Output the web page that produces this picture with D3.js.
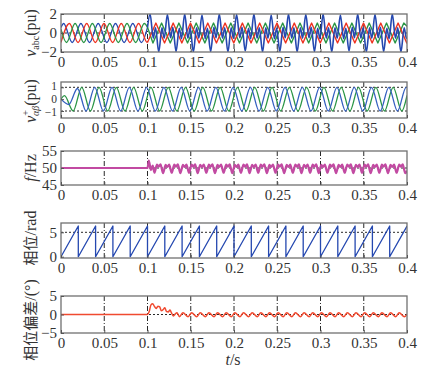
<!DOCTYPE html>
<html>
<head>
<meta charset="utf-8" />
<title>PLL response</title>
<script src="https://cdnjs.cloudflare.com/ajax/libs/d3/7.8.5/d3.min.js"></script>
<style>
  body { margin: 0; background: #fff; }
  svg text { font-family: "Liberation Serif", "DejaVu Serif", serif; fill: #333; }
  .cjk { font-family: "Noto Sans CJK SC", sans-serif; }
</style>
</head>
<body>
<script>
// time in ms

// x axis
var xTicks = [0, 0.05, 0.1, 0.15, 0.2, 0.25, 0.3, 0.35, 0.4];
var xTickLabels = ["0", "0.05", "0.1", "0.15", "0.2", "0.25", "0.3", "0.35", "0.4"];

// panel 1: v_abc
var vaPre = [[0,0.59],[3,1],[13,-1],[23,1],[33,-1],[43,1],[53,-1],[63,1],[73,-1],[83,1],[93,-1],[100,0.59]];
var vbPre = [[0,-0.99],[9.7,1],[19.7,-1],[29.7,1],[39.7,-1],[49.7,1],[59.7,-1],[69.7,1],[79.7,-1],[89.7,1],[99.7,-1],[100,-1]];
var vcPre = [[0,0.4],[6.3,-1],[16.3,1],[26.3,-1],[36.3,1],[46.3,-1],[56.3,1],[66.3,-1],[76.3,1],[86.3,-1],[96.3,1],[100,0.6]];
var vaPost = [[100,0.59],
  [103,2],[106.7,-0.55],[109.3,0.55],[113,-2],[116.7,0.55],[119.3,-0.55],
  [123,1.95],[126.7,-0.5],[129.3,0.6],[133,-1.95],[136.7,0.5],[139.3,-0.6],
  [143,2],[146.7,-0.55],[149.3,0.55],[153,-2],[156.7,0.55],[159.3,-0.55],
  [163,1.9],[166.7,-0.6],[169.3,0.5],[173,-1.95],[176.7,0.6],[179.3,-0.5],
  [183,2],[186.7,-0.55],[189.3,0.55],[193,-2],[196.7,0.55],[199.3,-0.55],
  [203,1.95],[206.7,-0.5],[209.3,0.6],[213,-1.9],[216.7,0.5],[219.3,-0.6],
  [223,2],[226.7,-0.55],[229.3,0.55],[233,-2],[236.7,0.55],[239.3,-0.55],
  [243,1.9],[246.7,-0.6],[249.3,0.5],[253,-1.95],[256.7,0.6],[259.3,-0.5],
  [263,2],[266.7,-0.55],[269.3,0.55],[273,-2],[276.7,0.55],[279.3,-0.55],
  [283,1.95],[286.7,-0.5],[289.3,0.6],[293,-1.95],[296.7,0.5],[299.3,-0.6],
  [303,2],[306.7,-0.55],[309.3,0.55],[313,-2],[316.7,0.55],[319.3,-0.55],
  [323,1.9],[326.7,-0.6],[329.3,0.5],[333,-1.9],[336.7,0.6],[339.3,-0.5],
  [343,2],[346.7,-0.55],[349.3,0.55],[353,-2],[356.7,0.55],[359.3,-0.55],
  [363,1.95],[366.7,-0.5],[369.3,0.6],[373,-1.95],[376.7,0.5],[379.3,-0.6],
  [383,2],[386.7,-0.55],[389.3,0.55],[393,-2],[396.7,0.55],[399.3,-0.55],[400,-0.4]];
var vbPost = [[100,-1],[109.7,1.05],[119.7,-1.05],[129.7,1.05],[139.7,-1.05],[149.7,1.05],[159.7,-1.05],
  [169.7,1.05],[179.7,-1.05],[189.7,1.05],[199.7,-1.05],[209.7,1.05],[219.7,-1.05],[229.7,1.05],[239.7,-1.05],
  [249.7,1.05],[259.7,-1.05],[269.7,1.05],[279.7,-1.05],[289.7,1.05],[299.7,-1.05],[309.7,1.05],[319.7,-1.05],
  [329.7,1.05],[339.7,-1.05],[349.7,1.05],[359.7,-1.05],[369.7,1.05],[379.7,-1.05],[389.7,1.05],[399.7,-1.05],[400,-1]];
var vcPost = [[100,0.6],[106.3,-1.05],[116.3,1.05],[126.3,-1.05],[136.3,1.05],[146.3,-1.05],[156.3,1.05],
  [166.3,-1.05],[176.3,1.05],[186.3,-1.05],[196.3,1.05],[206.3,-1.05],[216.3,1.05],[226.3,-1.05],[236.3,1.05],
  [246.3,-1.05],[256.3,1.05],[266.3,-1.05],[276.3,1.05],[286.3,-1.05],[296.3,1.05],[306.3,-1.05],[316.3,1.05],
  [326.3,-1.05],[336.3,1.05],[346.3,-1.05],[356.3,1.05],[366.3,-1.05],[376.3,1.05],[386.3,-1.05],[396.3,1.05],[400,0.7]];

// panel 2: positive sequence alpha / beta
var vAlpha = [[0,0],[9,-0.45],[19,0.9],[29,-1],[39,1],[49,-1],[59,1],[69,-1],[79,1],[89,-1],[99,1],
  [109,-1],[119,1],[129,-1],[139,1],[149,-1],[159,1],[169,-1],[179,1],[189,-1],[199,1],
  [209,-1],[219,1],[229,-1],[239,1],[249,-1],[259,1],[269,-1],[279,1],[289,-1],[299,1],
  [309,-1],[319,1],[329,-1],[339,1],[349,-1],[359,1],[369,-1],[379,1],[389,-1],[399,1],[400,0.99]];
var vBeta = [[0,0],[4,0.3],[14,-1],[24,1],[34,-1],[44,1],[54,-1],[64,1],[74,-1],[84,1],[94,-1],
  [104,1],[114,-1],[124,1],[134,-1],[144,1],[154,-1],[164,1],[174,-1],[184,1],[194,-1],
  [204,1],[214,-1],[224,1],[234,-1],[244,1],[254,-1],[264,1],[274,-1],[284,1],[294,-1],
  [304,1],[314,-1],[324,1],[334,-1],[344,1],[354,-1],[364,1],[374,-1],[384,1],[394,-1],[400,0.31]];

// panel 3: frequency (Hz)
var freq = [[0,50],[100,50],[101.5,52.2],[104,49.4],[106,50.7],[108,48.6],
  [111,51],[113,50.4],[115,51.1],[118,48.5],[121,50.9],[123,50.3],[125,51],[128,48.6],
  [131,51],[133,50.4],[135,51.1],[138,48.5],[141,50.9],[143,50.3],[145,51],[148,48.6],
  [151,51],[153,50.4],[155,51.1],[158,48.5],[161,50.9],[163,50.3],[165,51],[168,48.6],
  [171,51],[173,50.4],[175,51.1],[178,48.5],[181,50.9],[183,50.3],[185,51],[188,48.6],
  [191,51],[193,50.4],[195,51.1],[198,48.5],[201,50.9],[203,50.3],[205,51],[208,48.6],
  [211,51],[213,50.4],[215,51.1],[218,48.5],[221,50.9],[223,50.3],[225,51],[228,48.6],
  [231,51],[233,50.4],[235,51.1],[238,48.5],[241,50.9],[243,50.3],[245,51],[248,48.6],
  [251,51],[253,50.4],[255,51.1],[258,48.5],[261,50.9],[263,50.3],[265,51],[268,48.6],
  [271,51],[273,50.4],[275,51.1],[278,48.5],[281,50.9],[283,50.3],[285,51],[288,48.6],
  [291,51],[293,50.4],[295,51.1],[298,48.5],[301,50.9],[303,50.3],[305,51],[308,48.6],
  [311,51],[313,50.4],[315,51.1],[318,48.5],[321,50.9],[323,50.3],[325,51],[328,48.6],
  [331,51],[333,50.4],[335,51.1],[338,48.5],[341,50.9],[343,50.3],[345,51],[348,48.6],
  [351,51],[353,50.4],[355,51.1],[358,48.5],[361,50.9],[363,50.3],[365,51],[368,48.6],
  [371,51],[373,50.4],[375,51.1],[378,48.5],[381,50.9],[383,50.3],[385,51],[388,48.6],
  [391,51],[393,50.4],[395,51.1],[398,48.5],[400,49.2]];

// panel 4: phase (rad)
var phase = [[0,0],[20,6.28],[20,0],[40,6.28],[40,0],[60,6.28],[60,0],[80,6.28],[80,0],[100,6.28],[100,0],
  [120,6.28],[120,0],[140,6.28],[140,0],[160,6.28],[160,0],[180,6.28],[180,0],[200,6.28],[200,0],
  [220,6.28],[220,0],[240,6.28],[240,0],[260,6.28],[260,0],[280,6.28],[280,0],[300,6.28],[300,0],
  [320,6.28],[320,0],[340,6.28],[340,0],[360,6.28],[360,0],[380,6.28],[380,0],[400,6.28]];

// panel 5: phase error (deg)
var phaseErr = [[0,0],[100,0],[102,0.8],[104,2.6],[106,2.9],[108,2.2],[110,1.6],[112,2.2],[114,2.1],
  [116,1.0],[118,1.3],[120,1.8],[122,0.8],[124,0.7],[126,1.2],[128,0.3],[130,-0.4],[132,0.1],[134,0.5],
  [137,-0.6],[141,0.5],[147,-0.6],[151,0.5],[157,-0.6],[161,0.5],[167,-0.6],[171,0.5],[177,-0.6],[181,0.5],
  [187,-0.6],[191,0.5],[197,-0.6],[201,0.5],[207,-0.6],[211,0.5],[217,-0.6],[221,0.5],[227,-0.6],[231,0.5],
  [237,-0.6],[241,0.5],[247,-0.6],[251,0.5],[257,-0.6],[261,0.5],[267,-0.6],[271,0.5],[277,-0.6],[281,0.5],
  [287,-0.6],[291,0.5],[297,-0.6],[301,0.5],[307,-0.6],[311,0.5],[317,-0.6],[321,0.5],[327,-0.6],[331,0.5],
  [337,-0.6],[341,0.5],[347,-0.6],[351,0.5],[357,-0.6],[361,0.5],[367,-0.6],[371,0.5],[377,-0.6],[381,0.5],
  [387,-0.6],[391,0.5],[397,-0.6],[400,0.1]];

var W = 428, H = 370;
var svg = d3.select("body").append("svg").attr("width", W).attr("height", H);

var x = d3.scaleLinear().domain([0, 0.4]).range([61, 407]);

var blue = "#2548b0", red = "#ee3322", green = "#2a9545";

var panels = [
  { top: 14, bottom: 52, domain: [-2, 2], range: [52, 14], ticks: [-2, 0, 2], tickLabels: ["\u22122", "0", "2"], hgrid: [0], fs: 15,
    series: [
      { data: vaPre, color: blue, w: 1.3, curve: d3.curveMonotoneX },
      { data: vbPre, color: red, w: 1.3, curve: d3.curveMonotoneX },
      { data: vcPre, color: green, w: 1.3, curve: d3.curveMonotoneX },
      { data: vcPost, color: green, w: 1.4, curve: d3.curveLinear },
      { data: vbPost, color: red, w: 1.4, curve: d3.curveLinear },
      { data: vaPost, color: blue, w: 1.6, curve: d3.curveMonotoneX }
    ] },
  { top: 82, bottom: 118, domain: [-1, 1], range: [111, 87.3], ticks: [-1, 0, 1], tickLabels: ["\u22121", "0", "1"], hgrid: [-1, 1], fs: 11.5, nudge: 1,
    series: [
      { data: vBeta, color: green, w: 1.3, curve: d3.curveMonotoneX },
      { data: vAlpha, color: "#3560c0", w: 1.3, curve: d3.curveMonotoneX }
    ] },
  { top: 151, bottom: 185, domain: [45, 55], range: [185, 151], ticks: [45, 50, 55], tickLabels: ["45", "50", "55"], hgrid: [50], fs: 15,
    series: [
      { data: freq, color: "#c24aa2", w: 2.2, curve: d3.curveMonotoneX }
    ] },
  { top: 223, bottom: 258, domain: [0, 5], range: [256.7, 232.3], ticks: [0, 5], tickLabels: ["0", "5"], hgrid: [5], fs: 15,
    series: [
      { data: phase, color: "#2548b0", w: 1.3, curve: d3.curveLinear }
    ] },
  { top: 296, bottom: 333, domain: [-5, 5], range: [333, 296], ticks: [-5, 0, 5], tickLabels: ["\u22125", "0", "5"], hgrid: [0], fs: 15,
    series: [
      { data: phaseErr, color: "#f04a30", w: 1.5, curve: d3.curveMonotoneX }
    ] }
];

panels.forEach(function(p, i) {
  var y = d3.scaleLinear().domain(p.domain).range(p.range);
  var g = svg.append("g");

  g.append("clipPath").attr("id", "clip" + i)
    .append("rect").attr("x", x(0)).attr("y", p.top).attr("width", x(0.4) - x(0)).attr("height", p.bottom - p.top);

  // grid
  g.selectAll(".vg").data(xTicks.slice(1, -1)).enter().append("line")
    .attr("x1", function(d) { return x(d); }).attr("x2", function(d) { return x(d); })
    .attr("y1", p.top).attr("y2", p.bottom)
    .attr("stroke", "#111").attr("stroke-width", 0.9).attr("stroke-dasharray", "5,2,1,2");
  g.selectAll(".hg").data(p.hgrid).enter().append("line")
    .attr("x1", x(0)).attr("x2", x(0.4))
    .attr("y1", function(d) { return y(d); }).attr("y2", function(d) { return y(d); })
    .attr("stroke", "#111").attr("stroke-width", 0.9).attr("stroke-dasharray", "2,2");

  // lines
  var plot = g.append("g").attr("clip-path", "url(#clip" + i + ")");
  p.series.forEach(function(s) {
    var line = d3.line()
      .x(function(d) { return x(d[0] / 1000); })
      .y(function(d) { return y(d[1]); })
      .curve(s.curve);
    plot.append("path").datum(s.data)
      .attr("fill", "none").attr("stroke", s.color).attr("stroke-width", s.w)
      .attr("stroke-linejoin", "round").attr("d", line);
  });

  // frame
  g.append("rect").attr("x", x(0)).attr("y", p.top)
    .attr("width", x(0.4) - x(0)).attr("height", p.bottom - p.top)
    .attr("fill", "none").attr("stroke", "#707070").attr("stroke-width", 1.3);

  // axes
  var xa = g.append("g").attr("transform", "translate(0," + p.bottom + ")")
    .call(d3.axisBottom(x).tickValues(xTicks)
      .tickFormat(function(d, j) { return xTickLabels[j]; })
      .tickSizeInner(-3).tickSizeOuter(0).tickPadding(4));
  var ya = g.append("g").attr("transform", "translate(" + x(0) + ",0)")
    .call(d3.axisLeft(y).tickValues(p.ticks)
      .tickFormat(function(d, j) { return p.tickLabels[j]; })
      .tickSizeInner(-3).tickSizeOuter(0).tickPadding(4));
  xa.selectAll("text").attr("font-size", 15);
  ya.selectAll("text").attr("font-size", p.fs);
  if (p.nudge) {
    // spread the crowded labels a little
    ya.selectAll("text").attr("y", function(d) { return d > 0 ? -p.nudge : (d < 0 ? p.nudge : 0); });
  }
  [xa, ya].forEach(function(a) {
    a.select(".domain").remove();
    a.selectAll("line").attr("stroke", "#555");
    a.selectAll("text").attr("fill", "#333")
      .style("font-family", "'Liberation Serif', serif");
  });
});

// y labels
function ylab(cy, cx) {
  return svg.append("text").attr("transform", "translate(" + cx + "," + cy + ") rotate(-90)")
    .attr("text-anchor", "middle").attr("font-size", 16);
}
var l1 = ylab(33, 36);
l1.append("tspan").attr("font-style", "italic").text("v");
l1.append("tspan").attr("font-size", 10).attr("dy", 3).text("abc");
l1.append("tspan").attr("dy", -3).text("(pu)");

var l2 = ylab(101, 36);
l2.append("tspan").attr("font-style", "italic").text("v");
l2.append("tspan").attr("font-size", 10).attr("dy", -7).text("+");
l2.append("tspan").attr("font-size", 10).attr("dx", -6).attr("dy", 10).attr("font-style", "italic").text("\u03b1\u03b2");
l2.append("tspan").attr("dy", -3).text("(pu)");

var l3 = ylab(168, 36);
l3.append("tspan").attr("font-style", "italic").text("f");
l3.append("tspan").text("/Hz");

var l4 = ylab(238, 36);
l4.append("tspan").attr("class", "cjk").attr("font-size", 15).text("\u76f8\u4f4d");
l4.append("tspan").text("/rad");

var l5 = ylab(320, 36);
l5.append("tspan").attr("class", "cjk").attr("font-size", 15).text("\u76f8\u4f4d\u504f\u5dee");
l5.append("tspan").text("/(\u00b0)");

// x label
var xl = svg.append("text").attr("x", 233).attr("y", 365).attr("text-anchor", "middle").attr("font-size", 16);
xl.append("tspan").attr("font-style", "italic").text("t");
xl.append("tspan").text("/s");
</script>
</body>
</html>
